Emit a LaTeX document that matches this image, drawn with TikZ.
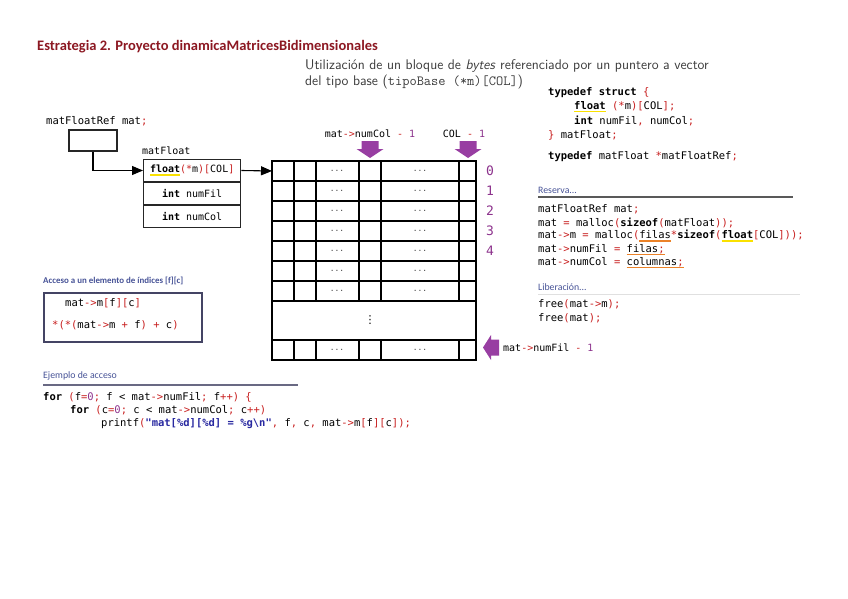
\documentclass[tikz,border=0pt]{standalone}
\usepackage{fontspec}
\setmainfont{Carlito}
\newfontfamily\codefont{DejaVu Sans Mono}
\newfontfamily\symfont{DejaVu Sans}
\usepackage{xcolor}
\usetikzlibrary{arrows.meta,positioning}
\definecolor{titlered}{RGB}{140,24,34}
\definecolor{codered}{RGB}{200,32,32}
\definecolor{codepurple}{RGB}{140,50,140}
\definecolor{markpurple}{RGB}{152,62,162}
\definecolor{headblue}{RGB}{70,82,150}
\definecolor{strblue}{RGB}{40,40,160}
\definecolor{subgray}{RGB}{60,60,60}
\definecolor{boxslate}{RGB}{68,68,100}
\definecolor{hlyellow}{RGB}{250,225,0}
\definecolor{hlorange}{RGB}{235,130,40}

% code colouring
\newcommand{\pu}[1]{\textcolor{codered}{#1}}
\newcommand{\kw}[1]{\textbf{#1}}
\newcommand{\nb}[1]{\textcolor{codepurple}{#1}}
\newcommand{\st}[1]{\textcolor{strblue}{\textbf{#1}}}
\newsavebox\ulbox
\newcommand{\hlu}[2]{\sbox\ulbox{#2}\rlap{\textcolor{#1}{\rule[-2.6pt]{\wd\ulbox}{1.5pt}}}\usebox\ulbox}

\tikzset{
  code/.style={font=\codefont\fontsize{10.5}{12}\selectfont,inner sep=0pt,anchor=west},
  head/.style={font=\bfseries\fontsize{8.9}{10}\selectfont,text=headblue,inner sep=0pt,anchor=west},
  subhead/.style={font=\fontsize{9.8}{11}\selectfont,text=headblue,inner sep=0pt,anchor=west},
  field/.style={draw=black!85,line width=1.3pt,minimum width=97pt,minimum height=21.7pt,inner sep=0pt,
    font=\codefont\fontsize{10}{12}\selectfont},
  cell/.style={line width=1.2pt},
  dotsnode/.style={font=\codefont\fontsize{8}{9}\selectfont,inner sep=0pt,text=black!75},
  rowlbl/.style={font=\codefont\fontsize{13}{14}\selectfont,text=codepurple,inner sep=0pt},
  ptrarrow/.style={-{Triangle[length=11pt,width=9pt]},line width=1.1pt}
}

\begin{document}
\begin{tikzpicture}[x=1pt,y=-1pt]
  \useasboundingbox (0,0) rectangle (848,599);
  % title and subtitle
  \node[anchor=west,inner sep=0pt,text=titlered,font=\bfseries\fontsize{14.5}{16}\selectfont] (title) at (37,47)
    {Estrategia 2. Proyecto dinamicaMatricesBidimensionales};
  \node[anchor=west,inner sep=0pt,text=subgray,font=\sffamily\fontsize{14}{16}\selectfont] (sub1) at (305,66)
    {Utilización de un bloque de \textit{bytes} referenciado por un puntero a vector};
  \node[anchor=west,inner sep=0pt,text=subgray,font=\sffamily\fontsize{14}{16}\selectfont] (sub2) at (305,82)
    {del tipo base (\texttt{tipoBase (*m)[COL]})};

  % pointer and struct
  \node[code] (ptrlbl) at (46,121) {matFloatRef mat\pu{;}};
  \node[draw=black!85,line width=1.3pt,minimum width=48pt,minimum height=21pt] (ptr) at (93,140.5) {};
  \node[code,font=\codefont\fontsize{10}{12}\selectfont] (stlbl) at (142,151) {matFloat};
  \node[field,anchor=north west] (fm) at (143,159) {\hlu{hlyellow}{\kw{float}}\pu{(*}m\pu{)[}COL\pu{]}};
  \node[field,below=0pt of fm] (fnf) {\kw{int} numFil};
  \node[field,below=0pt of fnf] (fnc) {\kw{int} numCol};
  \draw[ptrarrow] (ptr.south) |- (fm.west);

  % block of rows
  \coordinate (blk) at (272,171);
  \draw[ptrarrow] (fm.east) -- (blk);
  \draw[cell] (272,161) rectangle (476,360);
  \foreach \y in {181,201,...,301,340} \draw[cell] (272,\y) -- (476,\y);
  \foreach \x in {294,316,359,381,459} {
    \draw[cell] (\x,161) -- (\x,301);
    \draw[cell] (\x,340) -- (\x,360);
  }
  \foreach \y in {171,191,...,291,350} {
    \node[dotsnode] (da\y) at (337,\y) {...};
    \node[dotsnode] (db\y) at (420,\y) {...};
  }
  \node[inner sep=0pt,font=\symfont\fontsize{11}{12}\selectfont] (vd) at (370,320) {⋮};
  \foreach \i in {0,...,4} \node[rowlbl] (r\i) at (490,{171+20*\i}) {\i};

  % markers
  \foreach \cx in {370,468}
    \fill[markpurple] (\cx-8.5,141) -- (\cx+8.5,141) -- (\cx+8.5,149) -- (\cx+13.5,149)
      -- (\cx,158) -- (\cx-13.5,149) -- (\cx-8.5,149) -- cycle;
  \fill[markpurple] (499,339.5) -- (499,355.5) -- (491,355.5) -- (491,360) -- (483,347.5)
    -- (491,335) -- (491,339.5) -- cycle;
  \node[code,anchor=center,font=\codefont\fontsize{10}{12}\selectfont] (lcol) at (370,134) {mat\pu{->}numCol \pu{-} \nb{1}};
  \node[code,anchor=center,font=\codefont\fontsize{10}{12}\selectfont] (lCOL) at (464,134) {COL \pu{-} \nb{1}};
  \node[code,font=\codefont\fontsize{10}{12}\selectfont] (lfil) at (503,348) {mat\pu{->}numFil \pu{-} \nb{1}};

  % struct definition
  \node[code] (s1) at (548,93) {\kw{typedef} \kw{struct} \pu{\{}};
  \node[code] (s2) at (574,107) {\hlu{hlyellow}{\kw{float}} \pu{(*}m\pu{)[}COL\pu{];}};
  \node[code] (s3) at (574,121) {\kw{int} numFil\pu{,} numCol\pu{;}};
  \node[code] (s4) at (548,135) {\pu{\}} matFloat\pu{;}};
  \node[code] (s5) at (548,157) {\kw{typedef} matFloat \pu{*}matFloatRef\pu{;}};

  % reserva
  \node[subhead] (hres) at (538,190) {Reserva...};
  \draw[line width=1.2pt,black!65] (538,197) -- (793,197);
  \node[code] (c1) at (538,209) {matFloatRef mat\pu{;}};
  \node[code] (c2) at (538,223) {mat \pu{=} malloc\pu{(}\kw{sizeof}\pu{(}matFloat\pu{));}};
  \node[code] (c3) at (538,236) {mat\pu{->}m \pu{=} malloc\pu{(}\hlu{hlorange}{filas}\pu{*}\kw{sizeof}\pu{(}\hlu{hlyellow}{\kw{float}}\pu{[}COL\pu{]));}};
  \node[code] (c4) at (538,250) {mat\pu{->}numFil \pu{=} \hlu{hlorange}{filas\pu{;}}};
  \node[code] (c5) at (538,263) {mat\pu{->}numCol \pu{=} \hlu{hlorange}{columnas\pu{;}}};

  % liberacion
  \node[subhead] (hlib) at (538,287) {Liberación...};
  \draw[line width=0.8pt,black!12] (538,294) -- (800,294);
  \node[code] (f1) at (538,304) {free\pu{(}mat\pu{->}m\pu{);}};
  \node[code] (f2) at (538,318) {free\pu{(}mat\pu{);}};

  % acceso
  \node[head] (hacc) at (43,281) {Acceso a un elemento de índices [f][c]};
  \node[draw=boxslate,line width=1.5pt,minimum width=158pt,minimum height=49pt,anchor=north west,inner sep=0pt] (acc) at (43,292) {};
  \node[code] (a1) at (65,303) {mat\pu{->}m\pu{[}f\pu{][}c\pu{]}};
  \node[code] (a2) at (52,325) {\pu{*(*(}mat\pu{->}m \pu{+} f\pu{)} \pu{+} c\pu{)}};

  % ejemplo
  \node[subhead] (hej) at (43,376) {Ejemplo de acceso};
  \draw[line width=1.2pt,boxslate!80] (43,385) -- (298,385);
  \node[code] (e1) at (43,397) {\kw{for} \pu{(}f\pu{=}\nb{0}\pu{;} f < mat\pu{->}numFil\pu{;} f\pu{++)} \pu{\{}};
  \node[code] (e2) at (70,410) {\kw{for} \pu{(}c\pu{=}\nb{0}\pu{;} c < mat\pu{->}numCol\pu{;} c\pu{++)}};
  \node[code] (e3) at (101,424) {printf\pu{(}\st{"mat[\%d][\%d] = \%g\textbackslash n"}\pu{,} f\pu{,} c\pu{,} mat\pu{->}m\pu{[}f\pu{][}c\pu{]);}};
\end{tikzpicture}
\end{document}
